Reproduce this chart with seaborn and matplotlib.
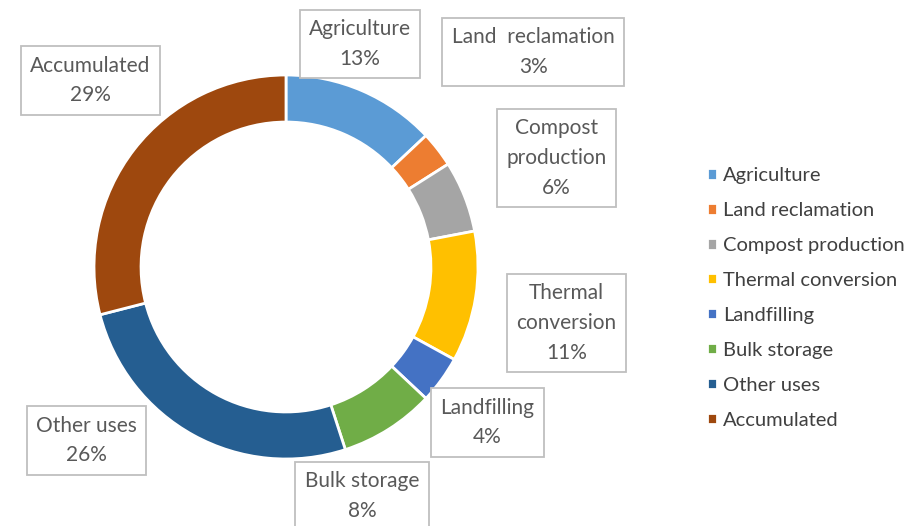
import matplotlib
matplotlib.use("Agg")
import matplotlib.pyplot as plt
import seaborn as sns

categories = ["Agriculture", "Land reclamation", "Compost production", "Thermal conversion",
              "Landfilling", "Bulk storage", "Other uses", "Accumulated"]
values = [13, 3, 6, 11, 4, 8, 26, 29]
box_labels = ["Agriculture", "Land  reclamation", "Compost\nproduction", "Thermal\nconversion",
              "Landfilling", "Bulk storage", "Other uses", "Accumulated"]
colors = ["#5B9BD5", "#ED7D31", "#A5A5A5", "#FFC000", "#4472C4", "#70AD47", "#255E91", "#9E480E"]

# label box centres (in units of pie radius)
label_pos = [(0.385, 1.16), (1.287, 1.12), (1.41, 0.568), (1.46, -0.292),
             (1.05, -0.81), (0.396, -1.193), (-1.04, -0.904), (-1.02, 0.971)]

sns.set_theme(style="white")
plt.rcParams["font.family"] = ["Lato", "DejaVu Sans"]

W, H = 917, 526
fig = plt.figure(figsize=(W / 100, H / 100), dpi=100)
cx, cy, R = 286, 267, 192
ax = fig.add_axes([(cx - R) / W, (H - cy - R) / H, 2 * R / W, 2 * R / H])

wedges, _ = ax.pie(values, colors=colors, startangle=90, counterclock=False,
                   radius=1.0, wedgeprops=dict(width=0.245, edgecolor="white", linewidth=2))
ax.set_xlim(-1, 1)
ax.set_ylim(-1, 1)
ax.set_aspect("equal")
ax.axis("off")

for lab, v, (x, y) in zip(box_labels, values, label_pos):
    ax.text(x, y, f"{lab}\n{v}%", ha="center", va="center", fontsize=15, color="#595959",
            linespacing=1.6, clip_on=False,
            bbox=dict(boxstyle="square,pad=0.45", facecolor="white", edgecolor="#BFBFBF", linewidth=1.3))

fig.legend(wedges, categories, loc="upper left", bbox_to_anchor=(697 / W, 1 - 157 / H),
           frameon=False, fontsize=14.5, handlelength=0.5, handleheight=0.5, handletextpad=0.3,
           labelspacing=0.89, labelcolor="#404040", borderpad=0)

fig.savefig("out.png", dpi=100, facecolor="white")
